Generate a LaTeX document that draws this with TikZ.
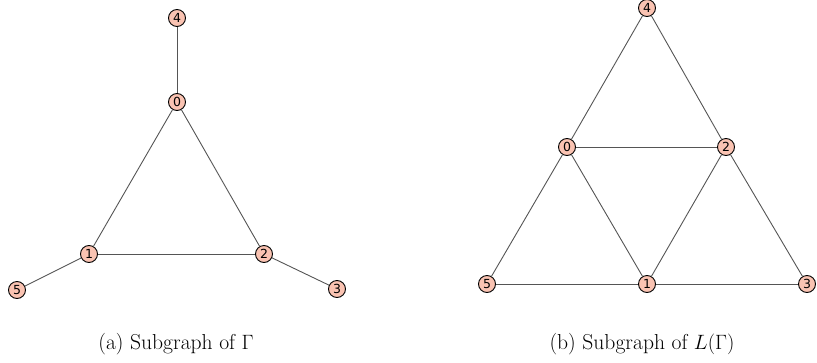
\documentclass[tikz,border=0pt]{standalone}
\usepackage{fontspec}
\newfontfamily\nodefont{DejaVu Sans}
\definecolor{vfill}{HTML}{FAC3B2}
\definecolor{edgec}{HTML}{555555}
\begin{document}
\begin{tikzpicture}[x=1pt,y=-1pt,
  vtx/.style={circle,draw=black,line width=0.9pt,fill=vfill,minimum size=17pt,inner sep=0pt,font=\nodefont\fontsize{12.5}{13}\selectfont},
  edge/.style={draw=edgec,line width=0.9pt},
  captxt/.style={font=\fontsize{21.6}{25}\selectfont}]
\useasboundingbox (0,0) rectangle (817,362);
% left graph
\node[vtx] (a4) at (177,18) {4};
\node[vtx] (a0) at (177,102) {0};
\node[vtx] (a1) at (89,254) {1};
\node[vtx] (a2) at (264,254) {2};
\node[vtx] (a5) at (17,290) {5};
\node[vtx] (a3) at (337,289) {3};
\draw[edge] (a4) -- (a0);
\draw[edge] (a0) -- (a1);
\draw[edge] (a0) -- (a2);
\draw[edge] (a1) -- (a2);
\draw[edge] (a1) -- (a5);
\draw[edge] (a2) -- (a3);
% right graph
\node[vtx] (b4) at (647,8) {4};
\node[vtx] (b0) at (567,147) {0};
\node[vtx] (b2) at (726,147) {2};
\node[vtx] (b5) at (487,284) {5};
\node[vtx] (b1) at (647,284) {1};
\node[vtx] (b3) at (807,284) {3};
\draw[edge] (b4) -- (b0);
\draw[edge] (b4) -- (b2);
\draw[edge] (b0) -- (b2);
\draw[edge] (b0) -- (b5);
\draw[edge] (b0) -- (b1);
\draw[edge] (b2) -- (b1);
\draw[edge] (b2) -- (b3);
\draw[edge] (b5) -- (b1);
\draw[edge] (b1) -- (b3);
% captions
\node[captxt] (ca) at (176,344) {(a) Subgraph of $\Gamma$};
\node[captxt] (cb) at (642,344) {(b) Subgraph of $L(\Gamma)$};
\end{tikzpicture}
\end{document}
